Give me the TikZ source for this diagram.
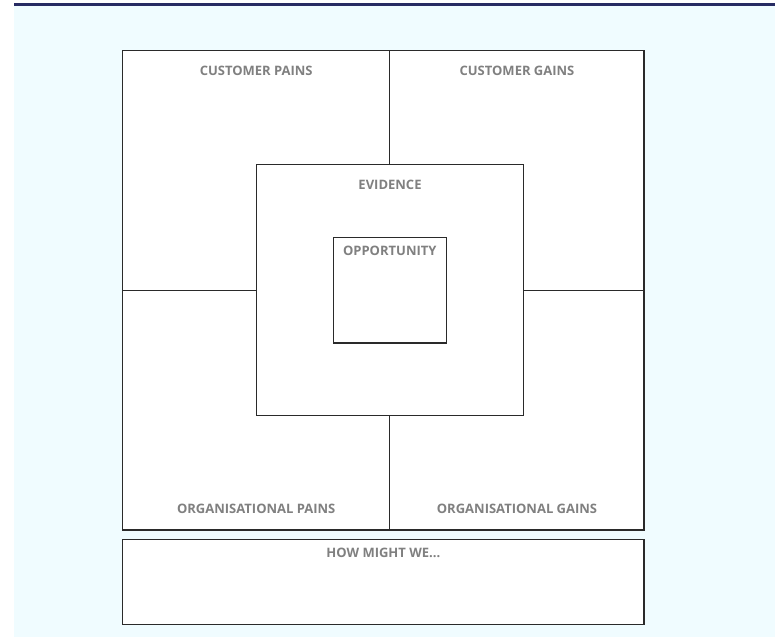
\documentclass[tikz,border=0pt]{standalone}
\usepackage{fontspec}
\setmainfont{Open Sans}
\definecolor{navy}{HTML}{272B63}
\definecolor{panel}{HTML}{F0FCFF}
\definecolor{lbl}{HTML}{808080}
\definecolor{edge}{HTML}{2A2A2A}
\begin{document}
\begin{tikzpicture}[x=1pt,y=-1pt,
  box/.style={draw=edge,line width=1.1pt,fill=white},
  divider/.style={draw=edge,line width=1.1pt},
  lab/.style={text=lbl,font=\fontsize{13}{15}\selectfont\bfseries,inner sep=0pt}]
\useasboundingbox (0,0) rectangle (775,638);
\fill[white] (0,0) rectangle (775,638);
\fill[panel] (14,3) rectangle (775,637);
\fill[navy] (14,3) rectangle (775,6);
% outer grid
\draw[box] (122.7,50.7) rectangle (644,530);
\coordinate (ttop) at (389.7,50.7);
\coordinate (tbot) at (389.7,530);
\coordinate (lmid) at (122.7,290.2);
\coordinate (rmid) at (644,290.2);
\node[box,minimum width=266.7pt,minimum height=251pt,inner sep=0pt] (ev) at (389.7,290.2) {};
\draw[divider] (ttop) -- (ev.north);
\draw[divider] (ev.south) -- (tbot);
\draw[divider] (lmid) -- (ev.west);
\draw[divider] (ev.east) -- (rmid);
\node[box,minimum width=113pt,minimum height=105.3pt,inner sep=0pt] (opp) at (389.8,290.35) {};
% how might we
\node[box,minimum width=521.3pt,minimum height=84.8pt,inner sep=0pt] (hmw) at (383.35,582) {};
% labels
\node[lab] (cp) at (256.2,71.3) {CUSTOMER PAINS};
\node[lab] (cg) at (517,71.3) {CUSTOMER GAINS};
\node[lab] (evl) at (390,185.3) {EVIDENCE};
\node[lab] (opl) at (389.8,251) {OPPORTUNITY};
\node[lab] (op) at (256.2,508.5) {ORGANISATIONAL PAINS};
\node[lab] (og) at (517,508.5) {ORGANISATIONAL GAINS};
\node[lab] (hm) at (383.35,553) {HOW MIGHT WE...};
\end{tikzpicture}
\end{document}
